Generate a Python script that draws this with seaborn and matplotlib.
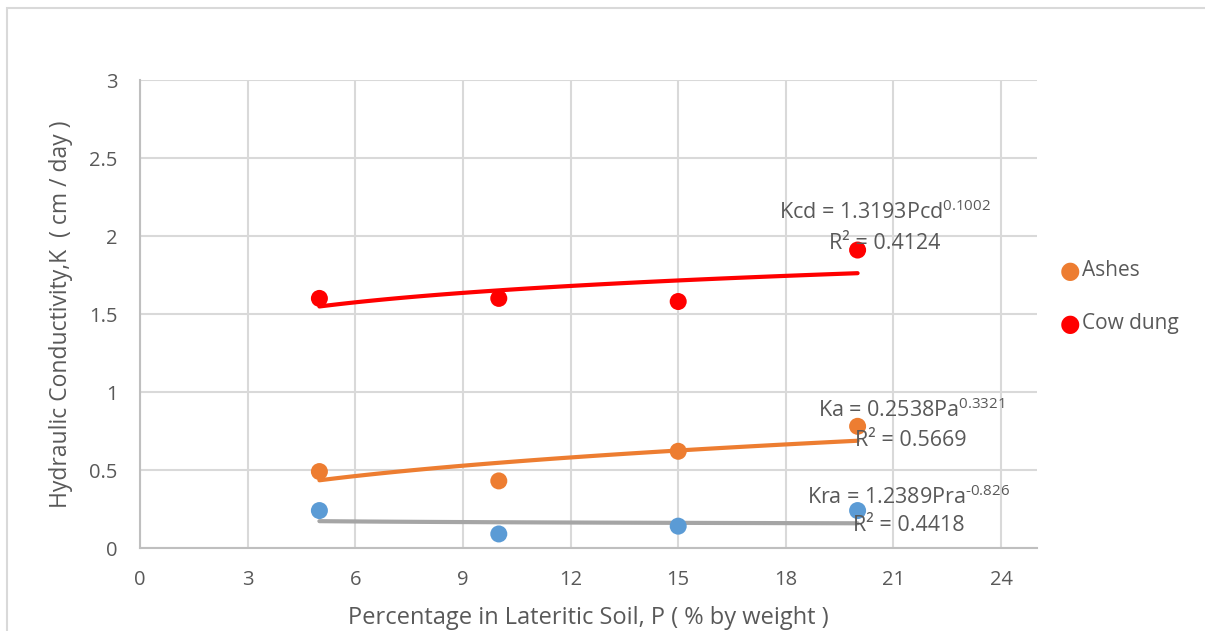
import numpy as np
import pandas as pd
import matplotlib
matplotlib.use("Agg")
import matplotlib.pyplot as plt
import seaborn as sns

# Data
pct = [5, 10, 15, 20]
k_raw = [0.24, 0.09, 0.14, 0.24]
k_ashes = [0.49, 0.43, 0.62, 0.78]
k_cowdung = [1.60, 1.60, 1.58, 1.91]

eq_raw = ["Kra = 1.2389Pra$^{\u2010 0.826}$", "R² = 0.4418"]
eq_ashes = ["Ka = 0.2538Pa$^{0.3321}$", "R² = 0.5669"]
eq_cow = ["Kcd = 1.3193Pcd$^{0.1002}$", "R² = 0.4124"]

df = pd.DataFrame({
    "P": pct * 3,
    "K": k_raw + k_ashes + k_cowdung,
    "series": ["Raw"] * 4 + ["Ashes"] * 4 + ["Cow dung"] * 4,
})

sns.set_style("white")
plt.rcParams["font.family"] = ["Open Sans", "DejaVu Sans"]
plt.rcParams["mathtext.fontset"] = "custom"
plt.rcParams["mathtext.rm"] = "Open Sans"
plt.rcParams["mathtext.it"] = "Open Sans"

txt = "#595959"
grid = "#D9D9D9"
axc = "#BFBFBF"

fig = plt.figure(figsize=(12.05, 6.31), dpi=100)
ax = fig.add_axes([140 / 1205, 1 - 548 / 631, (1037 - 140) / 1205, (548 - 80) / 631])

palette = {"Raw": "#5B9BD5", "Ashes": "#ED7D31", "Cow dung": "#FF0000"}
trend_col = {"Raw": "#A5A5A5", "Ashes": "#ED7D31", "Cow dung": "#FF0000"}

# power-law trendlines fitted from the data
for name, vals in [("Raw", k_raw), ("Ashes", k_ashes), ("Cow dung", k_cowdung)]:
    b, lna = np.polyfit(np.log(pct), np.log(vals), 1)
    xs = np.linspace(min(pct), max(pct), 100)
    sns.lineplot(x=xs, y=np.exp(lna) * xs ** b, ax=ax, color=trend_col[name],
                 lw=3, zorder=2, legend=False)

sns.scatterplot(data=df, x="P", y="K", hue="series", palette=palette, s=150,
                edgecolor="none", ax=ax, zorder=3, legend=False)

ax.set_xlim(0, 25)
ax.set_ylim(0, 3)
ax.set_xticks(range(0, 25, 3))
ax.set_yticks([0, 0.5, 1, 1.5, 2, 2.5, 3])
ax.set_yticklabels(["0", "0.5", "1", "1.5", "2", "2.5", "3"])
ax.grid(True, color=grid, lw=1.5)
ax.set_axisbelow(True)
for s in ["top", "right"]:
    ax.spines[s].set_visible(False)
for s in ["left", "bottom"]:
    ax.spines[s].set_color(axc)
    ax.spines[s].set_linewidth(1.5)
ax.tick_params(axis="both", colors=axc, length=7, width=1.5, labelcolor=txt,
               labelsize=14.5, pad=9)
ax.set_xlabel("Percentage in Lateritic Soil, P ( % by weight )", fontsize=17,
              color=txt, labelpad=11)
ax.set_ylabel("Hydraulic Conductivity,K  ( cm / day )", fontsize=16.5, color=txt,
              labelpad=12)

# equation labels
for (x, y1, y2), eq in [((20.76, 2.154, 1.955), eq_cow),
                        ((21.49, 0.885, 0.692), eq_ashes),
                        ((21.43, 0.327, 0.147), eq_raw)]:
    ax.text(x, y1, eq[0], fontsize=15.5, color=txt, ha="center", va="center")
    ax.text(x, y2, eq[1], fontsize=15.5, color=txt, ha="center", va="center")

# legend (only Ashes and Cow dung)
for name, yy in [("Ashes", 1 - 271 / 631), ("Cow dung", 1 - 324 / 631)]:
    fig.text(1070 / 1205, yy, "●", color=palette[name], fontsize=17,
             ha="center", va="center", family="DejaVu Sans")
    fig.text(1082 / 1205, yy, name, color=txt, fontsize=15, ha="left", va="center")

# chart area border
fig.patches.append(plt.Rectangle((7 / 1205, -0.01), 1.05, 1 - 8 / 631 + 0.01,
                                 transform=fig.transFigure, fill=False,
                                 edgecolor="#D9D9D9", lw=1.5))

fig.savefig("out.png", dpi=100)
